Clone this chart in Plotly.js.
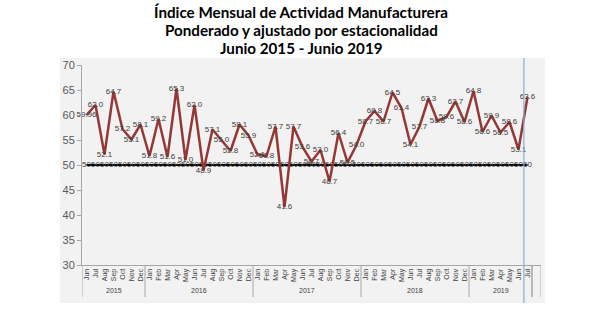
<!DOCTYPE html>
<html>
<head>
<meta charset="utf-8">
<script src="https://cdn.plot.ly/plotly-3.0.1.min.js"></script>
<style>html,body{margin:0;padding:0;background:#fff;}#chart{width:604px;height:328px;}</style>
</head>
<body>
<div id="chart"></div>
<script>
// ---- data ----
const titleLines = [
  "Índice Mensual de Actividad Manufacturera",
  "Ponderado y ajustado por estacionalidad",
  "Junio 2015 - Junio 2019"
];
const years = ["2015", "2016", "2017", "2018", "2019"];
const monthsPerYear = [
  ["Jun","Jul","Aug","Sep","Oct","Nov","Dec"],
  ["Jan","Feb","Mar","Apr","May","Jun","Jul","Aug","Sep","Oct","Nov","Dec"],
  ["Jan","Feb","Mar","Apr","May","Jun","Jul","Aug","Sep","Oct","Nov","Dec"],
  ["Jan","Feb","Mar","Apr","May","Jun","Jul","Aug","Sep","Oct","Nov","Dec"],
  ["Jan","Feb","Mar","Apr","May","Jun","Jul"]
];
const indexValues = [
  59.96, 62.0, 52.1, 64.7, 57.2, 55.1, 58.1,
  51.8, 59.2, 51.6, 65.3, 51.0, 62.0, 48.9, 57.1, 55.0, 52.8, 58.1, 55.9,
  52.1, 51.8, 57.7, 41.6, 57.7, 53.6, 50.7, 53.0, 46.7, 56.4, 50.5, 54.0,
  58.7, 60.8, 58.7, 64.5, 61.4, 54.1, 57.7, 63.3, 58.8, 59.6, 62.7, 58.6,
  64.8, 56.6, 59.9, 56.5, 58.6, 53.1, 63.6
];
const threshold = 50;

// ---- build ----
const months = [].concat(...monthsPerYear);
const xIdx = months.map((_, i) => i);
const fmt = v => (Math.abs(Math.round(v * 10) - v * 10) < 1e-9 ? v.toFixed(1) : String(v));
const labels = indexValues.map(fmt);
const base = months.map(() => threshold);

const labelFont = {family: "Liberation Sans, Arial, sans-serif", size: 8, color: "#404040"};

const traces = [
  {
    x: xIdx, y: base, type: "scatter", mode: "lines+text",
    line: {color: "#000000", width: 2.2},
    text: base.map(String), textposition: "middle center",
    textfont: labelFont, hoverinfo: "skip", cliponaxis: false
  },
  {
    x: xIdx, y: indexValues, type: "scatter", mode: "lines+text",
    line: {color: "#953735", width: 2.5},
    text: labels, textposition: "middle center",
    textfont: labelFont, cliponaxis: false
  }
];

// year group dividers & labels
const shapes = [];
const annotations = [];
const totalCats = months.length + 1; // one empty slot at the end
shapes.push({type: "rect", xref: "paper", yref: "paper", x0: -22/459, x1: 463/459, y0: -38/200, y1: 1 + 7/200,
  fillcolor: "#f2f2f2", line: {width: 0}, layer: "below"});
let start = 0;
const divColor = "#a6a6a6";
shapes.push({type: "line", xref: "x", yref: "paper", x0: -0.5, x1: -0.5, y0: 0, y1: -32/200, line: {color: divColor, width: 1}});
years.forEach((yr, k) => {
  const n = monthsPerYear[k].length;
  const end = start + n;
  shapes.push({type: "line", xref: "x", yref: "paper", x0: end - 0.5, x1: end - 0.5, y0: 0, y1: -32/200,
    line: {color: divColor, width: 1}});
  annotations.push({x: (start + end - 1) / 2, y: -25/200, xref: "x", yref: "paper", text: yr, showarrow: false,
    font: {family: "Liberation Sans, Arial, sans-serif", size: 7, color: "#404040"}, yanchor: "middle"});
  start = end;
});
shapes.push({type: "line", xref: "x", yref: "paper", x0: totalCats - 1.5, x1: totalCats - 1.5, y0: 0, y1: -32/200, line: {color: divColor, width: 1}});
shapes.push({type: "line", xref: "x", yref: "paper", x0: totalCats - 0.5, x1: totalCats - 0.5, y0: 0, y1: -32/200, line: {color: divColor, width: 1}});
// highlight line at last point
shapes.push({type: "line", xref: "x", yref: "paper", x0: months.length - 1.4, x1: months.length - 1.4,
  y0: -38/200, y1: 1 + 7/200, line: {color: "#8faadc", width: 1.2}});

// title lines as annotations (pixel centers 12, 30, 48)
const titleY = [12, 30, 48];
titleLines.forEach((t, i) => {
  annotations.push({x: (301 - 82) / 459, y: (265 - titleY[i]) / 200, xref: "paper", yref: "paper",
    text: "<b>" + t + "</b>", showarrow: false, xanchor: "center", yanchor: "middle",
    font: {family: "Lato, Open Sans, sans-serif", size: 15.2, color: "#000000"}});
});

const layout = {
  width: 604, height: 328,
  margin: {l: 82, r: 63, t: 65, b: 63},
  paper_bgcolor: "#ffffff", plot_bgcolor: "rgba(0,0,0,0)",
  showlegend: false,
  xaxis: {
    range: [-0.5, totalCats - 0.5], tickvals: xIdx, ticktext: months, tickangle: -90,
    tickfont: {family: "Liberation Sans, Arial, sans-serif", size: 7, color: "#404040"},
    showgrid: false, zeroline: false, showline: true, linecolor: divColor, ticks: "", fixedrange: true
  },
  yaxis: {
    range: [30, 70], dtick: 5, tick0: 30,
    tickfont: {family: "Liberation Sans, Arial, sans-serif", size: 11, color: "#595959"},
    showgrid: false, zeroline: false, showline: true, linecolor: divColor,
    ticks: "outside", ticklen: 4, tickcolor: divColor, fixedrange: true
  },
  shapes: shapes,
  annotations: annotations
};

Plotly.newPlot("chart", traces, layout, {displayModeBar: false, staticPlot: true});
</script>
</body>
</html>
